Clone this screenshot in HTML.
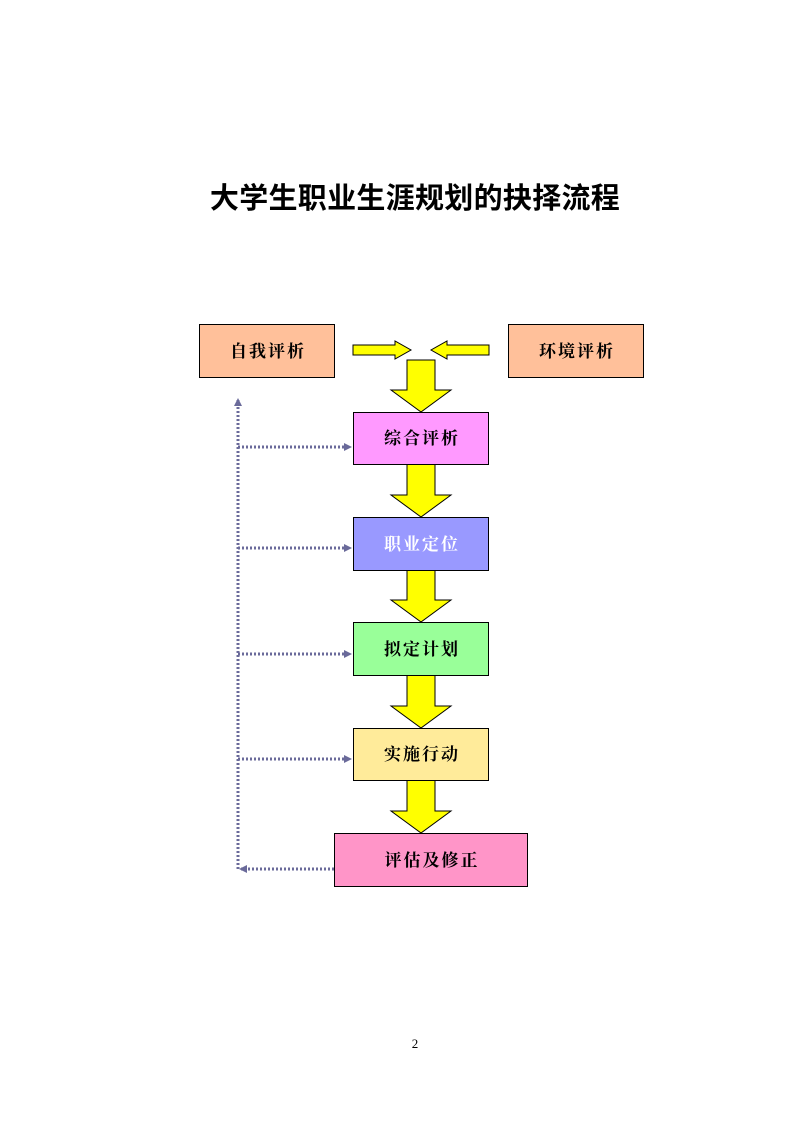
<!DOCTYPE html>
<html><head><meta charset="utf-8"><style>
body{margin:0;width:793px;height:1122px;background:#fff;position:relative;overflow:hidden}
.t{position:absolute;left:0;width:793px;top:175px;text-align:center;font:bold 29px "Liberation Sans","Noto Sans CJK SC",sans-serif;color:#000;letter-spacing:0.3px;padding-left:37px;box-sizing:border-box}
.pn{position:absolute;left:0;width:830px;top:1036px;text-align:center;font:13px "Liberation Serif",serif}
</style></head><body>
<div class="t">大学生职业生涯规划的抉择流程</div>
<svg width="793" height="1122" style="position:absolute;left:0;top:0" font-family="'Liberation Serif','Noto Serif CJK SC',serif" font-size="17" font-weight="bold">
<defs>
<marker id="m" markerWidth="8" markerHeight="8" refX="6" refY="4" orient="auto" markerUnits="userSpaceOnUse"><path d="M0,0 L8,4 L0,8z" fill="#6a6a9a"/></marker>
</defs>
<g stroke="#6a6a9a" stroke-width="3" stroke-dasharray="2,2" fill="none">
<line x1="238" y1="869" x2="238" y2="400" marker-end="url(#m)"/>
<line x1="238" y1="447" x2="350" y2="447" marker-end="url(#m)"/>
<line x1="238" y1="548" x2="350" y2="548" marker-end="url(#m)"/>
<line x1="238" y1="654" x2="350" y2="654" marker-end="url(#m)"/>
<line x1="238" y1="759" x2="350" y2="759" marker-end="url(#m)"/>
<line x1="334" y1="869" x2="241" y2="869" marker-end="url(#m)"/>
</g>
<g fill="#ffff00" stroke="#000" stroke-width="1">
<path d="M353,345 H395 V341 L411,350 L395,359 V355 H353z"/>
<path d="M489,345 H447 V341 L431,350 L447,359 V355 H489z"/>
<path d="M407,360 H435 V390 H451 L421,412 L391,390 H407z"/>
<path d="M407,464 H435 V495 H451 L421,517 L391,495 H407z"/>
<path d="M407,570 H435 V600 H451 L421,622 L391,600 H407z"/>
<path d="M407,675 H435 V706 H451 L421,728 L391,706 H407z"/>
<path d="M407,780 H435 V811 H451 L421,833 L391,811 H407z"/>
</g>
<g stroke="#000" stroke-width="1">
<rect x="199.5" y="324.5" width="135" height="53" fill="#ffc09a"/>
<rect x="508.5" y="324.5" width="135" height="53" fill="#ffc09a"/>
<rect x="353.5" y="412.5" width="135" height="52" fill="#ff99ff"/>
<rect x="353.5" y="517.5" width="135" height="53" fill="#9999ff"/>
<rect x="353.5" y="622.5" width="135" height="53" fill="#99ff99"/>
<rect x="353.5" y="728.5" width="135" height="52" fill="#ffeb9a"/>
<rect x="334.5" y="833.5" width="193" height="53" fill="#ff95c8"/>
</g>
<g text-anchor="middle" fill="#000" letter-spacing="2">
<text x="268" y="357">自我评析</text>
<text x="577" y="357">环境评析</text>
<text x="422" y="444">综合评析</text>
<text x="422" y="550" fill="#fff">职业定位</text>
<text x="422" y="655">拟定计划</text>
<text x="422" y="760">实施行动</text>
<text x="432" y="866">评估及修正</text>
</g>
</svg>
<div class="pn">2</div>
</body></html>
